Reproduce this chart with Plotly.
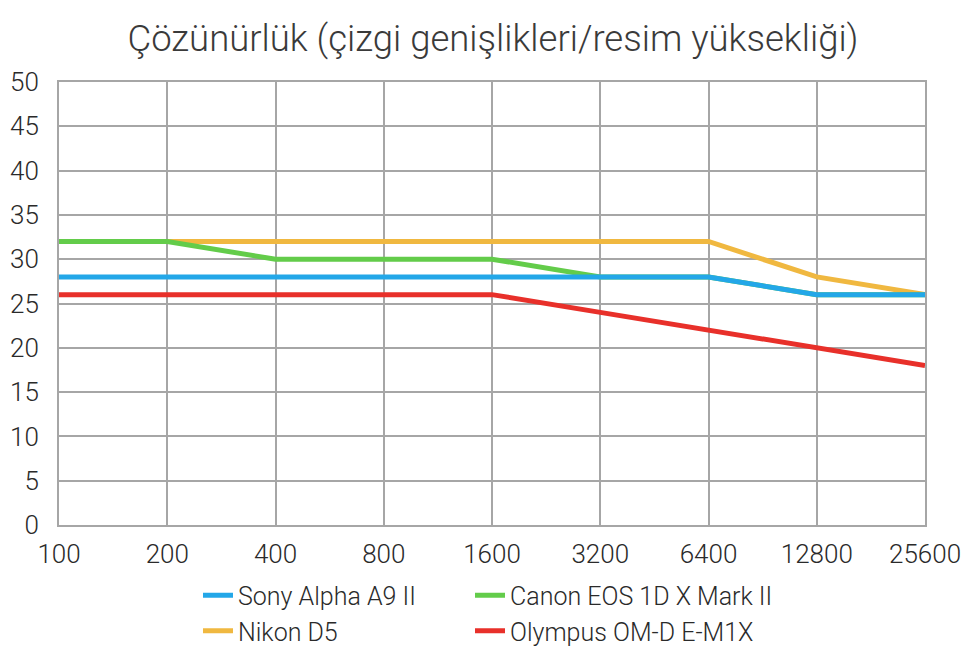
import plotly.graph_objects as go

iso = ["100", "200", "400", "800", "1600", "3200", "6400", "12800", "25600"]

sony = [28, 28, 28, 28, 28, 28, 28, 26, 26]
nikon = [32, 32, 32, 32, 32, 32, 32, 28, 26]
canon = [32, 32, 30, 30, 30, 28, 28, 26, 26]
olympus = [26, 26, 26, 26, 26, 24, 22, 20, 18]

y_ticks = list(range(0, 55, 5))

# draw order: Nikon at the bottom, then Canon, Sony, Olympus on top
# legend column 1: Sony, Nikon ; column 2: Canon, Olympus
series = [
    ("Nikon D5", nikon, "#f0b840", "legend", 2),
    ("Canon EOS 1D X Mark II", canon, "#63cc4a", "legend2", 1),
    ("Sony Alpha A9 II", sony, "#23a7e8", "legend", 1),
    ("Olympus OM-D E-M1X", olympus, "#e8302a", "legend2", 2),
]

fig = go.Figure()
for name, vals, color, leg, rank in series:
    fig.add_trace(go.Scatter(x=iso, y=vals, name=name, mode="lines",
                             line=dict(color=color, width=5),
                             legend=leg, legendrank=rank))

leg_font = dict(size=25, color="#2a2a2a", weight=300)

fig.update_layout(
    width=970, height=646,
    plot_bgcolor="white", paper_bgcolor="white",
    margin=dict(l=51, r=53, t=74, b=129, autoexpand=False),
    title=dict(text="Çözünürlük (çizgi genişlikleri/resim yüksekliği)",
               x=0.5, xanchor="center", yref="container", y=0.953, yanchor="middle",
               font=dict(family="Roboto", size=36.5, color="#3a3a3a")),
    font=dict(family="Roboto", size=26, color="#2a2a2a", weight=300),
    legend=dict(orientation="v", x=0.1605, xanchor="left",
                yref="container", y=0.126, yanchor="top",
                font=leg_font, tracegroupgap=0, itemwidth=30),
    legend2=dict(orientation="v", x=0.4746, xanchor="left",
                 yref="container", y=0.126, yanchor="top",
                 font=leg_font, tracegroupgap=0, itemwidth=30),
)
fig.update_xaxes(type="category", range=[0, 8], showgrid=True, gridcolor="#a6a6a6", gridwidth=2,
                 showline=True, linecolor="#a6a6a6", linewidth=2, mirror=True,
                 ticks="", ticklabelstandoff=5, automargin=False)
fig.update_yaxes(range=[0, 50], tickvals=y_ticks, showgrid=True, gridcolor="#a6a6a6", gridwidth=2,
                 showline=True, linecolor="#a6a6a6", linewidth=2, mirror=True,
                 ticks="", ticklabelstandoff=13, zeroline=False, automargin=False)

fig.write_html("out.html")
